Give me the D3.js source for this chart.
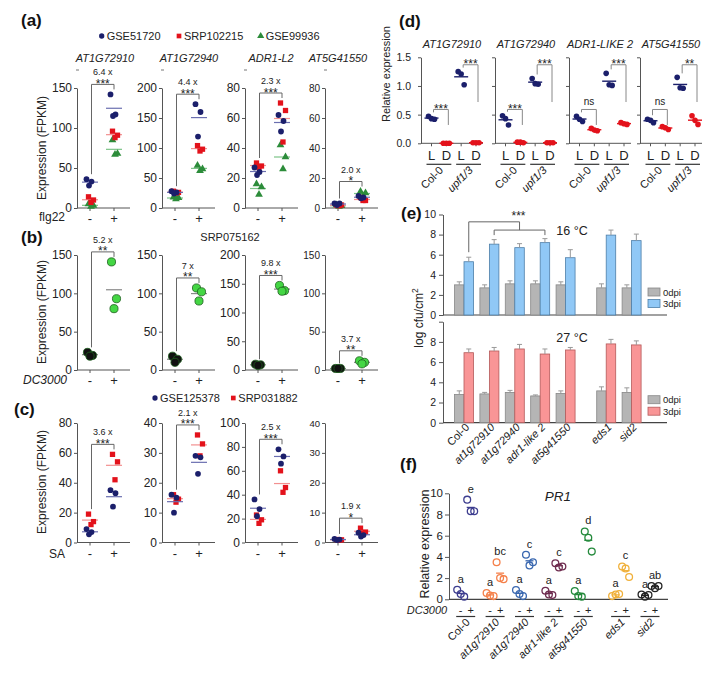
<!DOCTYPE html>
<html>
<head>
<meta charset="utf-8">
<script src="https://cdn.jsdelivr.net/npm/d3@7"></script>
<style>
  body { margin: 0; background: #fff; }
  svg { display: block; font-family: "Liberation Sans", Arial, sans-serif; }
</style>
</head>
<body>
<div id="figure"></div>
<script>
// ---------- values ----------
// (a) flg22, FPKM, [- group] / [+ group] per data set
var aGenes = ["AT1G72910", "AT1G72940", "ADR1-L2", "AT5G41550"];
var aMax = [150, 200, 80, 80];
var aStep = [50, 50, 20, 20];
var aFold = ["6.4 x", "4.4 x", "2.3 x", "2.0 x"];
var aStars = ["***", "***", "***", "*"];
var aBlueMinus = [[36, 33, 28], [28, 26, 24], [27, 24, 22], [3, 3, 2]];
var aBluePlus = [[142, 117, 115], [173, 160, 119], [62, 58, 51], [8, 7, 6.5]];
var aRedMinus = [[14, 10, 7], [28, 26, 25], [30, 28, 27], [2, 2, 1.5]];
var aRedPlus = [[96, 91, 88], [104, 98, 95], [70, 65, 44], [7, 5, 5]];
var aGreenMinus = [[5, 3, 2], [18, 17, 15], [16, 14, 9], [2, 1.5, 1]];
var aGreenPlus = [[85, 68, 67], [71, 65, 62], [42, 34, 26], [11, 10, 8]];
var aLegend = ["GSE51720", "SRP102215", "GSE99936"];

// (b) DC3000, SRP075162
var bMax = [150, 150, 200, 150];
var bFold = ["5.2 x", "7 x", "9.8 x", "3.7 x"];
var bStars = ["**", "**", "***", "**"];
var bMinus = [[23, 19, 18], [18, 14, 10], [10, 9, 8], [2, 2, 2]];
var bPlus = [[141, 93, 80], [107, 102, 90], [147, 138, 137], [12, 10, 8]];

// (c) SA
var cMax = [80, 40, 100, 40];
var cStep = [20, 10, 20, 10];
var cFold = ["3.6 x", "2.1 x", "2.5 x", "1.9 x"];
var cStars = ["***", "***", "***", "*"];
var cBlueMinus = [[9, 7, 5.5], [16, 15, 10], [36, 28, 22], [1.2, 1, 0.8]];
var cBluePlus = [[35, 33, 24], [29, 28.5, 23], [78, 72, 66], [3.3, 2.5, 2]];
var cRedMinus = [[19, 14, 12], [16, 14.5, 13.5], [23, 19, 16], [1, 0.9, 0.8]];
var cRedPlus = [[59, 54, 42], [36, 33, 29], [60, 46, 42], [4.8, 3.5, 3]];
var cLegend = ["GSE125378", "SRP031882"];

// (d) relative expression, L / D
var dGenes = ["AT1G72910", "AT1G72940", "ADR1-LIKE 2", "AT5G41550"];
var dColL = [[0.47, 0.43, 0.42], [0.48, 0.43, 0.32], [0.47, 0.42, 0.38], [0.42, 0.40, 0.36]];
var dColD = [[0, 0, 0], [0.02, 0.02, 0.01], [0.26, 0.23, 0.22], [0.29, 0.27, 0.24]];
var dUpfL = [[1.25, 1.21, 1.02], [1.13, 1.04, 1.03], [1.22, 1.02, 1.01], [1.15, 0.97, 0.96]];
var dUpfD = [[0.01, 0.01, 0.01], [0.01, 0.01, 0.01], [0.36, 0.34, 0.33], [0.48, 0.40, 0.33]];
var dSigCol = ["***", "***", "ns", "ns"];
var dSigUpf = ["***", "***", "***", "**"];

// (e) log cfu/cm2
var eLines = ["Col-0", "at1g72910", "at1g72940", "adr1-like 2", "at5g41550", "eds1", "sid2"];
var e16Day0 = [3.0, 2.7, 3.1, 3.1, 3.0, 2.7, 2.7];
var e16Day0Err = [0.3, 0.3, 0.3, 0.3, 0.3, 0.4, 0.3];
var e16Day3 = [5.3, 7.05, 6.7, 7.2, 5.7, 7.95, 7.4];
var e16Day3Err = [0.45, 0.45, 0.4, 0.4, 0.8, 0.5, 0.65];
var e27Day0 = [2.8, 2.85, 3.0, 2.65, 2.9, 3.15, 3.0];
var e27Day0Err = [0.35, 0.15, 0.2, 0.1, 0.25, 0.4, 0.45];
var e27Day3 = [6.93, 7.1, 7.3, 6.8, 7.2, 7.8, 7.7];
var e27Day3Err = [0.37, 0.35, 0.45, 0.5, 0.25, 0.45, 0.4];

// (f) PR1
var fMinus = [[0.9, 0.5, 0.25], [0.6, 0.35, 0.3], [0.88, 0.5, 0.3], [0.8, 0.45, 0.4], [0.78, 0.3, 0.25], [0.3, 0.45, 0.5], [0.45, 0.25, 0.4]];
var fPlus = [[9.4, 8.3, 8.3], [3.5, 2.0, 1.9], [4.2, 3.2, 3.5], [3.4, 3.0, 3.1], [6.4, 5.8, 4.5], [3.1, 2.9, 2.1], [1.26, 1.04, 1.26]];
var fLetMinus = ["a", "a", "a", "a", "a", "a", "a"];
var fLetPlus = ["e", "bc", "c", "c", "d", "c", "ab"];

// ---------- drawing ----------
var navy = "#1b1f6b", red = "#e3121b", dgreen = "#2c8c3a", lgreen = "#44d644";
var ink = "#222", axisInk = "#555";
var fColors = ["#3d3d8f", "#f5804a", "#3a68b0", "#6e2c4f", "#248a3c", "#f0b03a", "#222"];

var svg = d3.select("#figure").append("svg").attr("width", 721).attr("height", 675);

function txt(x, y, s, size) {
  return svg.append("text").attr("x", x).attr("y", y).attr("font-size", size).attr("fill", ink).text(s);
}
function line(x1, y1, x2, y2, color, w) {
  return svg.append("line").attr("x1", x1).attr("y1", y1).attr("x2", x2).attr("y2", y2)
    .attr("stroke", color || axisInk).attr("stroke-width", w || 1);
}
function styleAxis(g, size) {
  g.attr("font-family", null).attr("font-size", size);
  g.selectAll("path,line").attr("stroke", axisInk);
  g.selectAll("text").attr("fill", ink);
}
function rotLabel(x, y, s, size) {
  return svg.append("text").attr("transform", "translate(" + x + "," + y + ") rotate(-90)")
    .attr("text-anchor", "middle").attr("font-size", size).attr("fill", ink).text(s);
}
function slantLabel(x, y, s, size, italic) {
  return svg.append("text").attr("transform", "translate(" + x + "," + y + ") rotate(-45)")
    .attr("text-anchor", "end").attr("font-size", size).attr("font-style", italic ? "italic" : null)
    .attr("fill", ink).text(s);
}
function panelLabel(s, x, y) {
  txt(x, y, s, 17).attr("font-weight", "bold").attr("fill", "#111");
}

var jit = [-2.5, 2.5, 0];
function dotPlot(o) {
  var y = d3.scaleLinear().domain([0, o.max]).range([o.y0, o.yTop]);
  var x = d3.scalePoint().domain(["-", "+"]).range([o.x0 + 13, o.x0 + 37]);
  var ax = svg.append("g").attr("transform", "translate(" + o.x0 + ",0)")
    .call(d3.axisLeft(y).tickValues(d3.range(0, o.max + o.step / 2, o.step))
      .tickSize(3).tickSizeOuter(0).tickPadding(2));
  styleAxis(ax, o.fs);
  line(o.x0, o.y0, o.x0 + 53, o.y0);
  x.domain().forEach(function (k) {
    line(x(k), o.y0, x(k), o.y0 + 3);
    txt(x(k), o.y0 + 15, k, 13).attr("text-anchor", "middle");
  });
  o.series.forEach(function (s) {
    [["-", s.minus, 0], ["+", s.plus, 1]].forEach(function (gp) {
      var k = gp[0], vals = gp[1];
      var fill = Array.isArray(s.fill) ? s.fill[gp[2]] : s.fill;
      var m = d3.mean(vals);
      line(x(k) - s.lw, y(m), x(k) + s.lw, y(m), s.line, 1.2);
      svg.append("g").selectAll("path").data(vals).enter().append("path")
        .attr("d", d3.symbol().type(s.sym).size(s.size))
        .attr("transform", function (d, j) { return "translate(" + (x(k) + jit[j] + s.dx) + "," + y(d) + ")"; })
        .attr("fill", fill).attr("stroke", s.stroke || "none").attr("stroke-width", 0.8);
    });
  });
  var mMax = d3.max(o.series, function (s) { return d3.max(s.minus); });
  var pMax = d3.max(o.series, function (s) { return d3.max(s.plus); });
  var by = Math.min(y(mMax), y(pMax)) - 10;
  var xl = x("-") + 1.5, xr = x("+");
  svg.append("path").attr("d", "M" + xl + "," + (y(mMax) - 5) + "V" + by + "H" + xr + "V" + (y(pMax) - 5))
    .attr("fill", "none").attr("stroke", "#666");
  txt((xl + xr) / 2, by - 9, o.fold, 9).attr("text-anchor", "middle");
  txt((xl + xr) / 2, by + 3.5, o.stars, 12).attr("text-anchor", "middle");
}

var dotX0 = [77, 162, 245, 325];
var tickFs = [12, 12, 12, 10];

// ---- (a) ----
panelLabel("(a)", 21, 26);
var aLegX = [101.7, 179, 260.7];
var aSyms = [d3.symbolCircle, d3.symbolSquare, d3.symbolTriangle];
var aCols = [navy, red, dgreen];
aLegend.forEach(function (name, i) {
  svg.append("path").attr("d", d3.symbol().type(aSyms[i]).size(22)())
    .attr("transform", "translate(" + aLegX[i] + ",36)").attr("fill", aCols[i]);
  txt(aLegX[i] + 5, 40, name, 11);
});
var aTitleDx = [28, 27, 26, 13];
aGenes.forEach(function (g, i) {
  txt(dotX0[i] + aTitleDx[i], 62, g, 11).attr("text-anchor", "middle").attr("font-style", "italic");
  line(dotX0[i] - 1, 70, dotX0[i] + 2, 70, "#777");
  dotPlot({
    x0: dotX0[i], y0: 208, yTop: 88, max: aMax[i], step: aStep[i], fs: tickFs[i],
    fold: aFold[i], stars: aStars[i],
    series: [
      { minus: aGreenMinus[i], plus: aGreenPlus[i], sym: d3.symbolTriangle, size: 26, fill: dgreen, line: "#7cc488", lw: 8, dx: 1 },
      { minus: aRedMinus[i], plus: aRedPlus[i], sym: d3.symbolSquare, size: 28, fill: red, line: "#f29090", lw: 8, dx: 1 },
      { minus: aBlueMinus[i], plus: aBluePlus[i], sym: d3.symbolCircle, size: 26, fill: navy, line: "#6b6fb0", lw: 8, dx: -1 }
    ]
  });
});
rotLabel(46, 148, "Expression (FPKM)", 12);
txt(52, 221, "flg22", 12).attr("text-anchor", "middle");

// ---- (b) ----
panelLabel("(b)", 21, 243);
txt(230, 241, "SRP075162", 11).attr("text-anchor", "middle");
bMax.forEach(function (mx, i) {
  dotPlot({
    x0: dotX0[i], y0: 370, yTop: 255, max: mx, step: 50, fs: tickFs[i],
    fold: bFold[i], stars: bStars[i],
    series: [
      { minus: bMinus[i], plus: bPlus[i], sym: d3.symbolCircle, size: 52, fill: ["#111", lgreen],
        stroke: "#1d5e1d", line: "#888", lw: 8, dx: 0 }
    ]
  });
});
rotLabel(46, 312, "Expression (FPKM)", 12);
txt(45, 384, "DC3000", 12).attr("text-anchor", "middle").attr("font-style", "italic");

// ---- (c) ----
panelLabel("(c)", 14, 415);
var cLegX = [155, 233.3];
cLegend.forEach(function (name, i) {
  svg.append("path").attr("d", d3.symbol().type(aSyms[i]).size(22)())
    .attr("transform", "translate(" + cLegX[i] + ",398)").attr("fill", aCols[i]);
  txt(cLegX[i] + 5, 402, name, 11);
});
cMax.forEach(function (mx, i) {
  dotPlot({
    x0: dotX0[i], y0: 542.5, yTop: 423, max: mx, step: cStep[i], fs: i === 3 ? 9.5 : 12,
    fold: cFold[i], stars: cStars[i],
    series: [
      { minus: cRedMinus[i], plus: cRedPlus[i], sym: d3.symbolSquare, size: 28, fill: red, line: "#f29090", lw: 8, dx: 1 },
      { minus: cBlueMinus[i], plus: cBluePlus[i], sym: d3.symbolCircle, size: 26, fill: navy, line: "#6b6fb0", lw: 8, dx: -1 }
    ]
  });
});
rotLabel(46, 482, "Expression (FPKM)", 12);
txt(57, 558, "SA", 12).attr("text-anchor", "middle");

// ---- (d) ----
panelLabel("(d)", 399, 27);
var dX0 = [421, 495, 569, 640];
var yD = d3.scaleLinear().domain([0, 1.5]).range([143.3, 57.3]);
rotLabel(390, 74, "Relative expression", 11);
dGenes.forEach(function (g, i) {
  var x0 = dX0[i];
  var x = d3.scalePoint().domain(["L1", "D1", "L2", "D2"]).range([x0 + 10.5, x0 + 55]);
  var ax = svg.append("g").attr("transform", "translate(" + x0 + ",0)")
    .call(d3.axisLeft(yD).tickValues([0, 0.5, 1, 1.5])
      .tickFormat(i === 0 ? d3.format(".1f") : function () { return ""; })
      .tickSize(3).tickSizeOuter(0).tickPadding(7));
  styleAxis(ax, 10.5);
  line(x0, 143.3, x0 + 62, 143.3);
  txt(x0 + 31, 48, g, 11).attr("text-anchor", "middle").attr("font-style", "italic");
  var groups = [["L1", dColL[i], navy], ["D1", dColD[i], red], ["L2", dUpfL[i], navy], ["D2", dUpfD[i], red]];
  groups.forEach(function (gp) {
    var k = gp[0], vals = gp[1], col = gp[2];
    line(x(k), 143.3, x(k), 146.3);
    txt(x(k), 159.5, k.charAt(0), 13).attr("text-anchor", "middle");
    line(x(k) - 7, yD(d3.mean(vals)), x(k) + 7, yD(d3.mean(vals)), col, 1.4);
    svg.append("g").selectAll("circle").data(vals).enter().append("circle")
      .attr("cx", function (d, j) { return x(k) + [-3, 0, 3][j]; })
      .attr("cy", function (d) { return yD(d); })
      .attr("r", 2.8).attr("fill", col);
  });
  line(x("L1") - 5, 164.3, x("D1") + 5, 164.3, "#333", 1.2);
  line(x("L2") - 5, 164.3, x("D2") + 5, 164.3, "#333", 1.2);
  slantLabel((x("L1") + x("D1")) / 2 + 5, 171, "Col-0", 11, false);
  slantLabel((x("L2") + x("D2")) / 2 + 5, 171, "upf1/3", 11, true);
  // significance brackets
  [["L1", "D1", dColL[i], dSigCol[i], 0.59, 0.32], ["L2", "D2", dUpfL[i], dSigUpf[i], 1.37, 0.72]].forEach(function (b) {
    var by = yD(b[4]), xl = x(b[0]) + 2, xr = x(b[1]) + 2;
    svg.append("path").attr("d", "M" + xl + "," + (yD(d3.max(b[2])) - 4) + "V" + by + "H" + xr + "V" + yD(b[5]))
      .attr("fill", "none").attr("stroke", "#888");
    if (b[3] === "ns") txt((xl + xr) / 2, by - 4, "ns", 10).attr("text-anchor", "middle");
    else txt((xl + xr) / 2, by + 3.5, b[3], 12).attr("text-anchor", "middle");
  });
});

// ---- (e) ----
panelLabel("(e)", 401, 219);
var xE = d3.scaleLinear().domain([0, 6.6]).range([464, 631.6]);
function ePos(i) { return xE(i + (i >= 5 ? 0.6 : 0)); }
var bw = 9.5;
function barPanel(y0, yTop, day0, err0, day3, err3, fill3, stroke3, title, showTop) {
  var y = d3.scaleLinear().domain([0, 10]).range([y0, yTop]);
  var ax = svg.append("g").attr("transform", "translate(443,0)")
    .call(d3.axisLeft(y).tickValues([0, 2, 4, 6, 8, 10]).tickSize(4).tickSizeOuter(0).tickPadding(3)
      .tickFormat(function (d) { return d === 10 && !showTop ? "" : d; }));
  styleAxis(ax, 10.5);
  line(443, y0, 667, y0, "#444", 1.2);
  eLines.forEach(function (n, i) {
    var c = ePos(i);
    [[c - bw, day0[i], err0[i], "#b5b5b5", "#888"], [c, day3[i], err3[i], fill3, stroke3]].forEach(function (b) {
      svg.append("rect").attr("x", b[0]).attr("y", y(b[1])).attr("width", bw).attr("height", y0 - y(b[1]))
        .attr("fill", b[3]).attr("stroke", b[4]).attr("stroke-width", 0.8);
      var xm = b[0] + bw / 2;
      line(xm, y(b[1]), xm, y(b[1] + b[2]), "#999");
      line(xm - 2.5, y(b[1] + b[2]), xm + 2.5, y(b[1] + b[2]), "#999");
    });
  });
  txt(572, yTop + 20, title, 12.5).attr("text-anchor", "middle");
  [["0dpi", "#b5b5b5", "#888"], ["3dpi", fill3, stroke3]].forEach(function (l, j) {
    var ly = y0 - 23 + j * 11.5;
    svg.append("rect").attr("x", 648).attr("y", ly - 4).attr("width", 12).attr("height", 8)
      .attr("fill", l[1]).attr("stroke", l[2]).attr("stroke-width", 0.8);
    txt(663, ly + 3.5, l[0], 9.5);
  });
  return y;
}
var y16 = barPanel(315, 214.5, e16Day0, e16Day0Err, e16Day3, e16Day3Err, "#90c8f6", "#4d7ea8", "16 \u00b0C", true);
barPanel(422.7, 321.7, e27Day0, e27Day0Err, e27Day3, e27Day3Err, "#f99596", "#b45a5a", "27 \u00b0C", false);
// 16 C comparison bracket: Col-0 vs lines 1-3
var bx = [0, 1, 2, 3].map(function (i) { return ePos(i) + bw / 2; });
svg.append("path").attr("d", "M" + bx[0] + "," + (y16(e16Day3[0] + e16Day3Err[0]) - 5) + "V" + y16(9.27) + "H" + bx[2] + "V" + y16(8.45))
  .attr("fill", "none").attr("stroke", "#666");
svg.append("path").attr("d", "M" + bx[1] + "," + y16(7.95) + "V" + y16(8.45) + "H" + bx[3] + "V" + y16(7.95))
  .attr("fill", "none").attr("stroke", "#666");
txt(bx[2] - 1, 220, "***", 12).attr("text-anchor", "middle");
eLines.forEach(function (n, i) {
  slantLabel(ePos(i) + 6, 428, n, 11, i > 0);
});
svg.append("text").attr("transform", "translate(423,318) rotate(-90)").attr("text-anchor", "middle")
  .attr("font-size", 12).attr("fill", ink)
  .call(function (t) {
    t.append("tspan").text("log cfu/cm");
    t.append("tspan").attr("dy", -5).attr("font-size", 8.5).text("2");
  });

// ---- (f) ----
panelLabel("(f)", 400, 470);
var yF = d3.scaleLinear().domain([0, 10]).range([599.3, 493.3]);
var xF = d3.scaleLinear().domain([0, 6.27]).range([465.7, 650]);
function fPos(i) { return xF(i + (i >= 5 ? 0.27 : 0)); }
var axF = svg.append("g").attr("transform", "translate(449,0)")
  .call(d3.axisLeft(yF).tickValues([0, 2, 4, 6, 8, 10]).tickSize(4).tickSizeOuter(0).tickPadding(2));
styleAxis(axF, 11.5);
line(449, 599.3, 668, 599.3, "#444", 1.2);
rotLabel(429, 544, "Relative expression", 12.5);
txt(558, 501, "PR1", 13.5).attr("text-anchor", "middle").attr("font-style", "italic");
txt(427, 614, "DC3000", 11).attr("text-anchor", "middle").attr("font-style", "italic");
eLines.forEach(function (n, i) {
  var c = fPos(i), col = fColors[i];
  [[c - 5, fMinus[i], fLetMinus[i], "-"], [c + 5, fPlus[i], fLetPlus[i], "+"]].forEach(function (g) {
    var m = d3.mean(g[1]);
    line(g[0] - 4, yF(m), g[0] + 4, yF(m), col, 1.3);
    svg.append("g").selectAll("circle").data(g[1]).enter().append("circle")
      .attr("cx", function (d, j) { return g[0] + [-3.5, 0, 3.5][j]; })
      .attr("cy", function (d) { return yF(d); })
      .attr("r", 3.4).attr("fill", "none").attr("stroke", col).attr("stroke-width", 1.3);
    txt(g[0], yF(d3.max(g[1])) - 7, g[2], 11).attr("text-anchor", "middle");
    txt(g[0], 613.5, g[3], 11).attr("text-anchor", "middle");
  });
  line(c - 9.5, 616.5, c + 9.5, 616.5, "#333", 1.2);
  slantLabel(c + 5, 623, n, 11, i > 0);
});
</script>
</body>
</html>
